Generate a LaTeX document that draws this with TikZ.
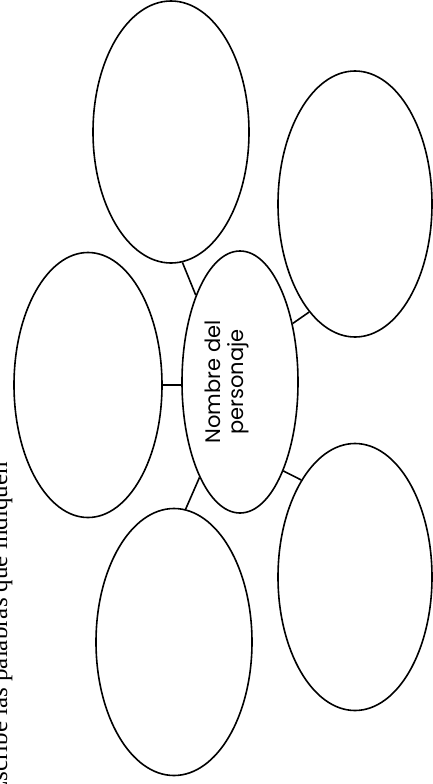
\documentclass[tikz,border=0pt]{standalone}
\usepackage{fontspec}
\setmainfont{Liberation Serif}
\newfontfamily\labelfont{Poppins}
\usetikzlibrary{shapes.geometric}
\begin{document}
\begin{tikzpicture}[x=1pt,y=-1pt,
  bubble/.style={ellipse,draw=black,line width=1.6pt,inner sep=0pt},
  link/.style={draw=black,line width=1.6pt}]
\useasboundingbox (0,0) rectangle (432,784);
\fill[white] (0,0) rectangle (432,784);
% instruction text (cut off at page edge, as in the reference)
\node[rotate=90,anchor=base east,inner sep=0pt,font=\fontsize{25}{27}\selectfont] (instr) at (7,462) {Escribe las palabras que indiquen};
% bubbles
\node[bubble,minimum width=116pt,minimum height=262pt] (C) at (240,382) {};
\node[bubble,minimum width=156pt,minimum height=262pt] (T) at (171,132) {};
\node[bubble,minimum width=154pt,minimum height=266pt] (TR) at (355,204) {};
\node[bubble,minimum width=148pt,minimum height=265pt] (L) at (88,385) {};
\node[bubble,minimum width=156pt,minimum height=267pt] (B) at (174,642) {};
\node[bubble,minimum width=154pt,minimum height=267pt] (BR) at (355,577) {};
% label
\node[rotate=90,align=center,inner sep=0pt,font=\labelfont\fontsize{21}{23}\selectfont] (lbl) at (227,382) {Nombre del\\personaje};
% connectors
\draw[link] (T.-85.6) -- (C.117.3);
\draw[link] (TR.247.1) -- (C.48);
\draw[link] (L.east) -- (L.east -| C.west);
\draw[link] (B.85.2) -- (C.247.2);
\draw[link] (BR.119.2) -- (C.-64.5);
\end{tikzpicture}
\end{document}
